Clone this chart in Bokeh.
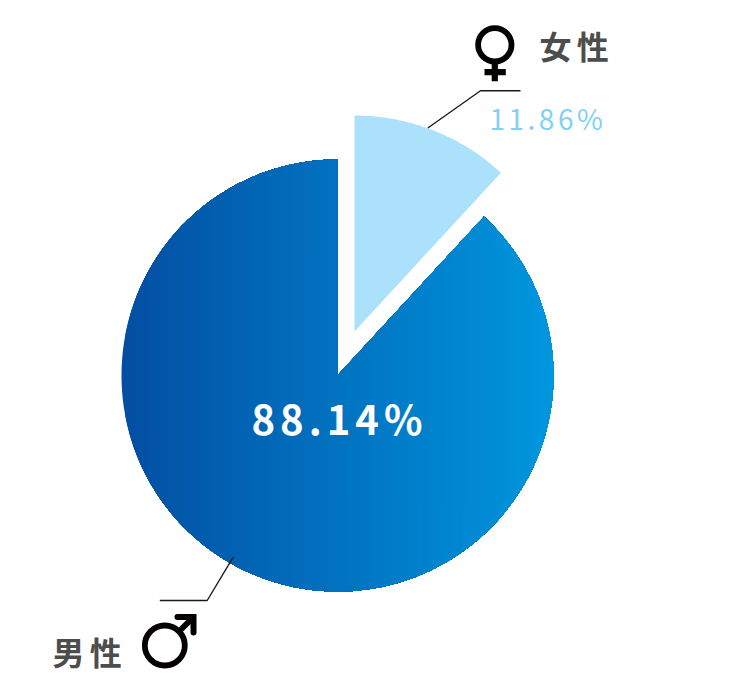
import math
from bokeh.plotting import figure
from bokeh.models import Range1d
from bokeh.core.properties import value
from bokeh.embed import file_html
from bokeh.resources import INLINE

# data
labels = ["女性", "男性"]
shares = [11.86, 88.14]
share_labels = ["11.86%", "88.14%"]

W, H = 734, 689
p = figure(width=W - 16, height=H - 16, output_backend="svg", toolbar_location=None,
           x_range=Range1d(0, W - 16), y_range=Range1d(H - 16, 0),
           min_border=0, outline_line_color=None, background_fill_color="white",
           border_fill_color="white", x_axis_location=None, y_axis_location=None)
p.xgrid.visible = False
p.ygrid.visible = False

R = 216
def sector(cx, cy, a, b):
    n = max(2, int((b - a) * 180 / math.pi))
    pts = [(cx, cy)]
    for i in range(n + 1):
        t = a + (b - a) * i / n
        pts.append((cx + R * math.sin(t), cy - R * math.cos(t)))
    return pts

def clip_right(pts, x0):
    out = []
    for i, (x1, y1) in enumerate(pts):
        x2, y2 = pts[(i + 1) % len(pts)]
        if x1 >= x0:
            out.append((x1, y1))
        if (x1 >= x0) != (x2 >= x0):
            s = (x0 - x1) / (x2 - x1)
            out.append((x0, y1 + s * (y2 - y1)))
    return out

split = 2 * math.pi * shares[0] / sum(shares)

# male slice: horizontal gradient painted as stacked clipped polygons
male = sector(337, 375, split, 2 * math.pi)
c0, c1 = (3, 78, 162), (0, 151, 222)
x_l, x_r = 337 - R, 337 + R
steps = 110
xs, ys, cols = [], [], []
for k in range(steps):
    f = k / steps
    poly = clip_right(male, x_l + (x_r - x_l) * f) if k else male
    if len(poly) < 3:
        continue
    xs.append([q[0] for q in poly])
    ys.append([q[1] for q in poly])
    f2 = (k + 0.5) / steps
    cols.append("#%02x%02x%02x" % tuple(round(u + (v - u) * f2) for u, v in zip(c0, c1)))
p.patches(xs, ys, fill_color=cols, line_color=None)

# female slice
female = sector(354, 331, 0, split)
p.patch([q[0] for q in female], [q[1] for q in female], fill_color="#abe1fa", line_color=None)

# leader lines
p.line([427.3, 480, 520], [127.5, 90.3, 90.3], line_color="#231815", line_width=1.4)
p.line([232.7, 206.7, 159.3], [556.7, 600, 600], line_color="#231815", line_width=1.4)

# venus symbol
p.circle(x=[494.3], y=[44.3], radius=16.7, fill_color=None, line_color="#040000", line_width=5.8)
p.line([494.3, 494.3], [62, 80.7], line_color="#040000", line_width=6.2)
p.line([484, 505.3], [71.7, 71.7], line_color="#040000", line_width=6.2)

# mars symbol
p.circle(x=[164.3], y=[645], radius=20, fill_color=None, line_color="#040000", line_width=5.8)
p.line([179, 193], [630.5, 616.5], line_color="#040000", line_width=6)
p.line([177, 193, 193], [616.5, 616.5, 632], line_color="#040000", line_width=6,
       line_cap="round", line_join="miter")

font = value("Noto Sans CJK JP")
p.text([539], [44], text=[labels[0][0] + "\u2006" + labels[0][1]], text_font=font,
       text_font_style="bold", text_font_size="32px", text_color="#4d4d4d",
       text_baseline="middle", text_align="left")
p.text([52], [650], text=[labels[1][0] + "\u2006" + labels[1][1]], text_font=font,
       text_font_style="bold", text_font_size="32px", text_color="#4d4d4d",
       text_baseline="middle", text_align="left")
p.text([489], [117], text=["\u200a\u200a".join(share_labels[0])], text_font=font,
       text_font_size="28px", text_color="#7fd1f6",
       text_baseline="middle", text_align="left")
p.text([251], [417], text=["\u200a\u200a".join(share_labels[1])], text_font=font,
       text_font_style="bold", text_font_size="40px", text_color="#ffffff",
       text_baseline="middle", text_align="left")

open("out.html", "w").write(file_html(p, INLINE))
